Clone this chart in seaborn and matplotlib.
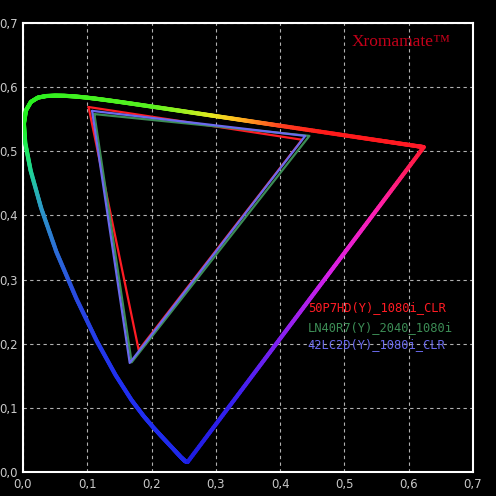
import numpy as np
import pandas as pd
import seaborn as sns
import matplotlib.pyplot as plt
from matplotlib.collections import LineCollection
from matplotlib.colors import to_rgb
from matplotlib.ticker import FuncFormatter, MultipleLocator

# CIE 1931 spectral locus (x, y), converted to CIE 1976 u'v' below
locus_nm = [380, 400, 420, 430, 440, 450, 455, 460, 465, 470, 475, 480, 485, 490, 495,
            500, 505, 510, 515, 520, 525, 530, 535, 540, 545, 550, 555, 560, 565, 570,
            575, 580, 585, 590, 595, 600, 610, 620, 630, 640, 660, 700]
locus_x = [0.1741, 0.1733, 0.1714, 0.1689, 0.1644, 0.1566, 0.1510, 0.1440, 0.1355, 0.1241,
           0.1096, 0.0913, 0.0687, 0.0454, 0.0235, 0.0082, 0.0039, 0.0139, 0.0389, 0.0743,
           0.1142, 0.1547, 0.1929, 0.2296, 0.2658, 0.3016, 0.3373, 0.3731, 0.4087, 0.4441,
           0.4788, 0.5125, 0.5448, 0.5752, 0.6029, 0.6270, 0.6658, 0.6915, 0.7079, 0.7190,
           0.7300, 0.7347]
locus_y = [0.0050, 0.0048, 0.0051, 0.0069, 0.0109, 0.0177, 0.0227, 0.0297, 0.0399, 0.0578,
           0.0868, 0.1327, 0.2007, 0.2950, 0.4127, 0.5384, 0.6548, 0.7502, 0.8120, 0.8338,
           0.8262, 0.8059, 0.7816, 0.7543, 0.7243, 0.6923, 0.6589, 0.6245, 0.5896, 0.5547,
           0.5202, 0.4866, 0.4544, 0.4242, 0.3965, 0.3725, 0.3340, 0.3083, 0.2920, 0.2809,
           0.2700, 0.2653]

# colour of the locus line at some wavelengths (as drawn in the chart)
stop_nm = [380, 470, 480, 485, 490, 495, 500, 505, 570, 580, 585, 590, 595, 600, 610, 700]
stop_col = ['#1c1ce0', '#2030f0', '#2848e0', '#2c6cd8', '#2c98c8', '#20d498', '#20ec50',
            '#20f020', '#58f020', '#b0f020', '#e8e820', '#ffc020', '#ff8020', '#ff4020',
            '#ff1a1a', '#ff1a30']
purple_col = ['#ff1a30', '#ff20b0', '#d820e8', '#8820f0', '#3820f0', '#1c1ce0']

# gamut triangles (u', v')
names = ['50P7HD(Y)_1080i_CLR', 'LN40R7(Y)_2040_1080i', '42LC2D(Y)_1080i_CLR']
tri_u = {
    '50P7HD(Y)_1080i_CLR': [0.102, 0.434, 0.180],
    'LN40R7(Y)_2040_1080i': [0.111, 0.4455, 0.169],
    '42LC2D(Y)_1080i_CLR': [0.1075, 0.439, 0.166],
}
tri_v = {
    '50P7HD(Y)_1080i_CLR': [0.569, 0.518, 0.190],
    'LN40R7(Y)_2040_1080i': [0.558, 0.524, 0.171],
    '42LC2D(Y)_1080i_CLR': [0.563, 0.524, 0.170],
}
tri_colors = ['#ff1c24', '#3c8c55', '#6a6aee']


def to_uv(x, y):
    x = np.asarray(x)
    y = np.asarray(y)
    d = -2 * x + 12 * y + 3
    return 4 * x / d, 9 * y / d


def colored_path(u, v, colors, n=20):
    # resample the path so the colour changes smoothly
    pu, pv, pc = [], [], []
    for i in range(len(u) - 1):
        t = np.linspace(0, 1, n, endpoint=False)
        pu.extend(u[i] + (u[i + 1] - u[i]) * t)
        pv.extend(v[i] + (v[i + 1] - v[i]) * t)
        c0, c1 = np.array(colors[i]), np.array(colors[i + 1])
        pc.extend(c0 + (c1 - c0) * t[:, None])
    pu.append(u[-1]); pv.append(v[-1]); pc.append(np.array(colors[-1]))
    pts = np.column_stack([pu, pv]).reshape(-1, 1, 2)
    segs = np.concatenate([pts[:-1], pts[1:]], axis=1)
    return segs, pc[:-1]


sns.set_style("dark")
plt.rcParams['font.family'] = ['DejaVu Sans']

fig = plt.figure(figsize=(4.96, 4.96), dpi=100, facecolor='black')
ax = fig.add_axes([23 / 496, 24 / 496, 450 / 496, 449 / 496])
ax.set_facecolor('black')

# spectral locus
lu, lv = to_uv(locus_x, locus_y)
stop_rgb = [to_rgb(c) for c in stop_col]
lcol = [tuple(np.interp(nm, stop_nm, [c[k] for c in stop_rgb]) for k in range(3)) for nm in locus_nm]
segs, cols = colored_path(lu, lv, lcol)
ax.add_collection(LineCollection(segs, colors=cols, linewidths=3.0, capstyle='round', zorder=3))

# line of purples
pu = np.linspace(lu[-1], lu[0], len(purple_col))
pv = np.linspace(lv[-1], lv[0], len(purple_col))
segs, cols = colored_path(pu, pv, [to_rgb(c) for c in purple_col], n=30)
ax.add_collection(LineCollection(segs, colors=cols, linewidths=3.0, capstyle='round', zorder=3))

# gamut triangles
rows = []
for name in names:
    us = tri_u[name] + tri_u[name][:1]
    vs = tri_v[name] + tri_v[name][:1]
    for i, (a, b) in enumerate(zip(us, vs)):
        rows.append({'name': name, 'order': i, 'u': a, 'v': b})
df = pd.DataFrame(rows)
sns.lineplot(data=df, x='u', y='v', hue='name', hue_order=names, palette=tri_colors,
             sort=False, estimator=None, units='name', linewidth=1.6, legend=False,
             ax=ax, zorder=4)

# labels standing in for a legend
for name, col, vy in zip(names, tri_colors, [0.256, 0.226, 0.198]):
    ax.text(0.443, vy, name, color=col, fontsize=8.7, family='DejaVu Sans Mono',
            va='center', ha='left', zorder=5)

ax.text(0.84, 0.958, 'Xromamate\u2122', transform=ax.transAxes, color='#c4001a',
        fontsize=12.5, family='Liberation Serif', ha='center', va='center', zorder=5)

ax.set_xlim(0, 0.7)
ax.set_ylim(0, 0.7)
ax.xaxis.set_major_locator(MultipleLocator(0.1))
ax.yaxis.set_major_locator(MultipleLocator(0.1))
fmt = FuncFormatter(lambda val, pos: f'{val:.1f}'.replace('.', ','))
ax.xaxis.set_major_formatter(fmt)
ax.yaxis.set_major_formatter(fmt)
ax.set_xlabel('')
ax.set_ylabel('')
ax.tick_params(colors='#c8c8c8', labelsize=8.5, length=0, pad=4)
ax.grid(True, color='#b0b0b0', linestyle=(0, (3, 3)), linewidth=0.8)
for s in ax.spines.values():
    s.set_visible(True)
    s.set_color('white')
    s.set_linewidth(1.5)

fig.savefig('out.png', dpi=100, facecolor='black')
